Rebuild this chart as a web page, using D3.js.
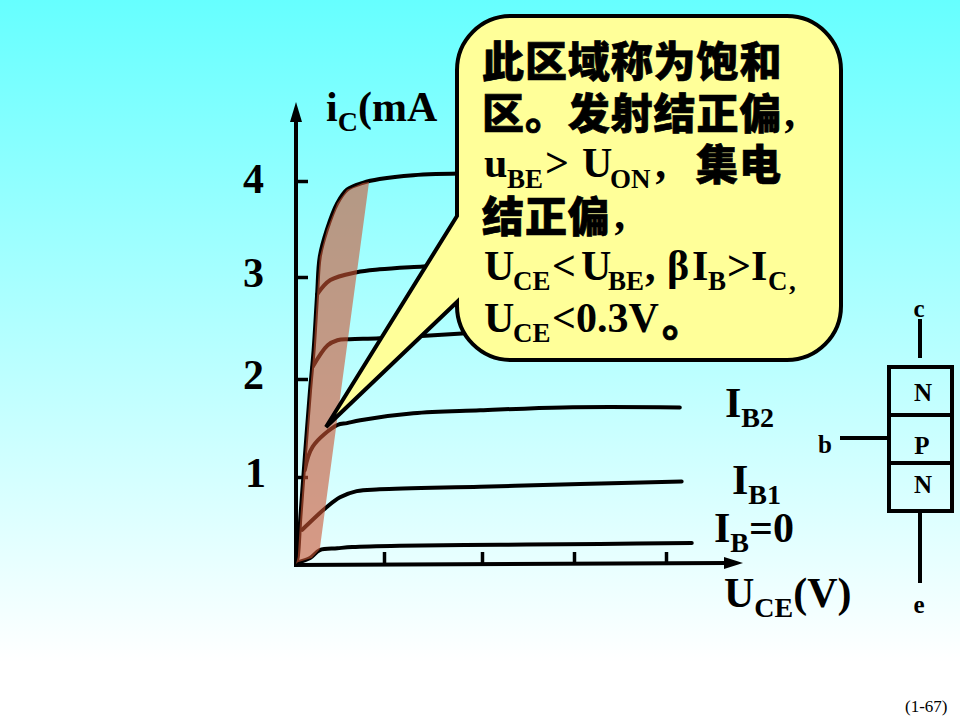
<!DOCTYPE html>
<html><head><meta charset="utf-8">
<script src="https://cdn.jsdelivr.net/npm/d3@7"></script>
<style>html,body{margin:0;padding:0;background:#fff}svg{display:block}
text{font-family:"Liberation Serif",serif;fill:#000}
.b{font-weight:bold}.cjk{font-family:"Noto Sans CJK SC",sans-serif;font-weight:900;stroke:#000;stroke-width:.7}</style>
</head><body><script>
const uTicks=[1,2,3,4], iTicks=[1,2,3,4];
const ib0=[[.02,.03],[.16,.08],[.27,.17],[.47,.19],[.64,.205],[1.16,.22],[2.2,.23],[3.28,.24],[4.28,.25]];
const ib1=[[.07,.40],[.35,.66],[.50,.77],[.69,.84],[.95,.86],[1.98,.89],[3.07,.92],[4.17,.95]];
const ib2=[[.10,1.07],[.19,1.31],[.47,1.53],[.58,1.55],[.73,1.58],[1.3,1.65],[1.98,1.68],[2.88,1.71],[4.15,1.71]];
const ib3=[[.19,2.12],[.36,2.33],[.47,2.38],[.61,2.39],[.95,2.40],[1.88,2.45]];
const ib4=[[.24,2.83],[.39,2.97],[.69,3.05],[.95,3.08],[1.4,3.11],[1.88,3.14]];
const ib5=[[0,.01],[.02,.09],[.05,.55],[.10,1.20],[.16,1.89],[.20,2.28],[.24,2.83],[.27,3.21],[.35,3.49],[.47,3.77],[.58,3.91],[.76,3.98],[.95,4.02],[1.3,4.06],[1.88,4.08]];
const region=[[0,.01],[.02,.09],[.05,.55],[.10,1.20],[.16,1.89],[.20,2.28],[.24,2.83],[.27,3.21],[.35,3.49],[.47,3.77],[.58,3.91],[.76,3.98],[.83,3.99],[.27,.18],[.18,.08],[.02,.03]];
const curves=[ib0,ib1,ib2,ib3,ib4,ib5];

const svg=d3.select("body").append("svg").attr("width",960).attr("height",720);
const defs=svg.append("defs");
const g=defs.append("linearGradient").attr("id","bg").attr("x1",0).attr("y1",0).attr("x2",0).attr("y2",1);
g.append("stop").attr("offset","0%").attr("stop-color","#66ffff");
g.append("stop").attr("offset","92%").attr("stop-color","#ffffff");
svg.append("rect").attr("width",960).attr("height",720).attr("fill","url(#bg)");

const x=d3.scaleLinear().domain([0,1,2,3,4,5]).range([296,384,482,574,666,758]);
const y=d3.scaleLinear().domain([0,1,2,3,4,5]).range([565,477,379,277,181,85]);

// axes
svg.append("g").attr("transform","translate(296,0)")
  .call(d3.axisRight(y).tickValues(iTicks).tickSize(12).tickFormat(""))
  .call(s=>{s.select(".domain").remove();s.selectAll("line").attr("stroke","#000").attr("stroke-width",3.5)});
svg.append("g").attr("transform","translate(0,564)")
  .call(d3.axisTop(x).tickValues(uTicks).tickSize(12).tickFormat(""))
  .call(s=>{s.select(".domain").remove();s.selectAll("line").attr("stroke","#000").attr("stroke-width",3.5)});
svg.append("line").attr("x1",296).attr("y1",120).attr("x2",296).attr("y2",567).attr("stroke","#000").attr("stroke-width",4);
svg.append("path").attr("d","M296,102L302,122L290,122Z").attr("fill","#000");
svg.append("line").attr("x1",294).attr("y1",565).attr("x2",726).attr("y2",563).attr("stroke","#000").attr("stroke-width",4);
svg.append("path").attr("d","M743,563L724,569L724,557Z").attr("fill","#000");

// curves
const line=d3.line().x(d=>x(d[0])).y(d=>y(d[1])).curve(d3.curveCatmullRom.alpha(.5));
svg.append("g").selectAll("path").data(curves).join("path").attr("d",line)
  .attr("fill","none").attr("stroke","#000").attr("stroke-width",4).attr("stroke-linecap","round");
// saturation region
svg.append("path").attr("d",d3.line().x(d=>x(d[0])).y(d=>y(d[1]))(region)+"Z")
  .attr("fill","#cc5533").attr("fill-opacity",.6);

// y tick labels
svg.append("g").selectAll("text").data(iTicks).join("text").attr("class","b")
  .attr("x",d=>d===1?245:243).attr("y",d=>y(d)+(d===4?12:10)).attr("font-size",42).text(d=>d);

// labels with subscripts
function label(px,py,main,sub,rest){
  const t=svg.append("text").attr("class","b").attr("x",px).attr("y",py).attr("font-size",42);
  t.append("tspan").text(main);
  t.append("tspan").attr("font-size",28).attr("dy",10).text(sub);
  if(rest) t.append("tspan").attr("dy",-10).text(rest);
}
label(326,121,"i","C","(mA");
label(725,417,"I","B2","");
label(732,494,"I","B1","");
label(714,542,"I","B","=0");
label(724,607,"U","CE","(V)");

// callout
const r=54,L=457,R=841,T=16,B=360;
const p=d3.path();
p.moveTo(L+r,T);p.lineTo(R-r,T);p.arcTo(R,T,R,T+r,r);p.lineTo(R,B-r);p.arcTo(R,B,R-r,B,r);
p.lineTo(L+r,B);p.arcTo(L,B,L,B-r,r);p.lineTo(L,302);p.lineTo(326,427);p.lineTo(L,216);
p.lineTo(L,T+r);p.arcTo(L,T,L+r,T,r);p.closePath();
svg.append("path").attr("d",p.toString()).attr("fill","#ffff99").attr("stroke","#000").attr("stroke-width",4).attr("stroke-linejoin","miter");

// callout text
const cjk=(px,py,s)=>svg.append("text").attr("class","cjk").attr("x",px).attr("y",py).attr("font-size",42).attr("letter-spacing",.9).text(s);
const ser=(px,py,s,fs=42)=>svg.append("text").attr("class","b").attr("x",px).attr("y",py).attr("font-size",fs).text(s);
const com=(px,py)=>ser(px,py,",",44).attr("font-style","italic");
cjk(482,77,"此区域称为饱和");
cjk(482,129,"区。发射结正偏");
com(786,127);
ser(484,177,"u");ser(507,188,"BE",27);ser(545,177,">");ser(582,177,"U");ser(610,188,"ON",27);
com(657,178);cjk(696,180,"集电");
cjk(482,232,"结正偏");com(616,229);
ser(484,280,"U");ser(513,290,"CE",27);ser(552,280,"<");ser(581,280,"U");ser(608,290,"BE",27);ser(645,280,",");
ser(667,280,"β").attr("font-weight","normal");ser(692,280,"I");ser(708,290,"B",27);ser(727,280,">");ser(751,280,"I");ser(768,290,"C",27);ser(789,290,",",27);
ser(484,332,"U");ser(513,342,"CE",27);ser(552,332,"<0.3V");cjk(662,336,"。");

// NPN diagram
const st=s=>s.attr("stroke","#000").attr("stroke-width",4).attr("fill","none");
st(svg.append("rect").attr("x",889).attr("y",367).attr("width",63).attr("height",144));
[415,463].forEach(v=>st(svg.append("line").attr("x1",889).attr("x2",952).attr("y1",v).attr("y2",v)));
st(svg.append("line").attr("x1",920).attr("x2",920).attr("y1",319).attr("y2",358));
st(svg.append("line").attr("x1",920).attr("x2",920).attr("y1",511).attr("y2",583));
st(svg.append("line").attr("x1",840).attr("x2",889).attr("y1",438).attr("y2",438));
const c=(px,py,s,fs=25)=>svg.append("text").attr("class","b").attr("x",px).attr("y",py).attr("font-size",fs).attr("text-anchor","middle").text(s);
c(919,317,"c");c(923,401,"N");c(922,454,"P");c(923,493,"N");c(825,453,"b");c(919,613,"e");
svg.append("text").attr("x",905).attr("y",712).attr("font-size",17).text("(1-67)");
</script></body></html>
